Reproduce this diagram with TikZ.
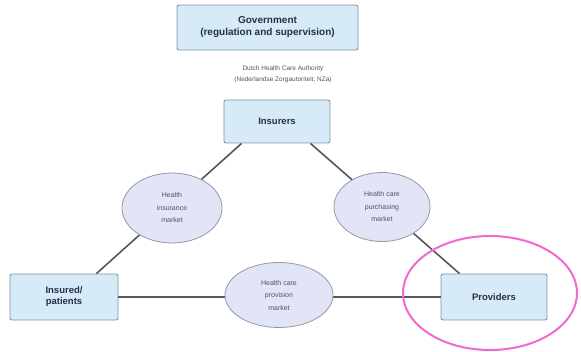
\documentclass[tikz,border=0pt]{standalone}
\usepackage{fontspec}
\setmainfont{Liberation Sans}
\usepackage{xcolor}
\usetikzlibrary{shapes.geometric}

\definecolor{boxblue}{RGB}{214,234,247}
\definecolor{boxline}{RGB}{135,148,160}
\definecolor{marketfill}{RGB}{226,229,246}
\definecolor{marketline}{RGB}{150,152,170}
\definecolor{linkgray}{RGB}{85,88,90}
\definecolor{highlight}{RGB}{242,105,205}
\definecolor{textblue}{RGB}{38,48,70}
\definecolor{textgray}{RGB}{80,84,95}

\tikzset{
  actor/.style={draw=boxline, fill=boxblue, rounded corners=2pt, line width=0.9pt,
    minimum width=106pt, minimum height=44pt, align=center, text=textblue,
    font=\fontsize{9.5}{11}\selectfont\bfseries},
  market/.style={ellipse, draw=marketline, fill=marketfill, line width=0.8pt,
    inner sep=0pt, align=center, text=textgray,
    font=\fontsize{7}{12.5}\selectfont},
  link/.style={draw=linkgray, line width=1.6pt},
}

\begin{document}
\begin{tikzpicture}[x=1pt,y=-1pt]
  \useasboundingbox (0,0) rectangle (581,352);
  \node[actor, minimum width=181pt, minimum height=45pt, font=\fontsize{10}{12}\selectfont\bfseries]
    (gov) at (267.5,27.5) {Government\\(regulation and supervision)};
  \node[align=center, text=textgray, font=\fontsize{6.5}{11}\selectfont]
    (nza) at (283,74) {Dutch Health Care Authority\\(Nederlandse Zorgautoriteit, NZa)};
  \node[actor, minimum height=43pt] (insurers) at (277,121.5) {Insurers};
  \node[actor, minimum width=108pt, minimum height=46pt] (insured) at (64,297) {Insured/\\patients};
  \node[actor, minimum height=46pt] (providers) at (494,297) {Providers};
  % connectors
  \draw[link] ([xshift=18pt]insurers.south west) -- ([xshift=-22pt]insured.north east);
  \draw[link] ([xshift=-20pt]insurers.south east) -- ([xshift=19pt]providers.north west);
  \draw[link] (insured.east) -- (providers.west);
  % markets
  \node[market, minimum width=100pt, minimum height=70pt] (insmarket) at (172,208) {Health\\insurance\\market};
  \node[market, minimum width=96pt, minimum height=69pt] (purmarket) at (382,207) {Health care\\purchasing\\market};
  \node[market, minimum width=108pt, minimum height=65pt] (provmarket) at (279,295) {Health care\\provision\\market};
  % highlight
  \node[ellipse, draw=highlight, line width=2pt, minimum width=174pt, minimum height=114pt] (focus) at (490,293) {};
\end{tikzpicture}
\end{document}
